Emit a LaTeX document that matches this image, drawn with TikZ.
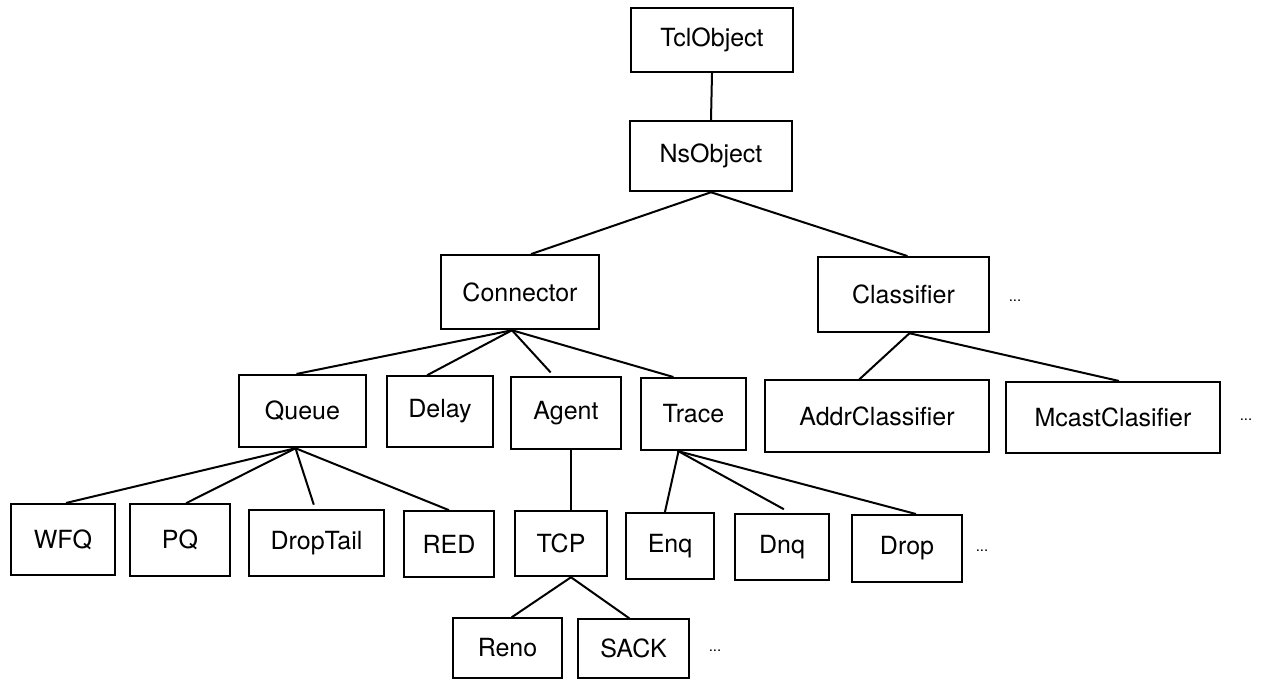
\documentclass[tikz,border=0pt]{standalone}
\usepackage{fontspec}
\setmainfont{TeX Gyre Heros}
\begin{document}
\begin{tikzpicture}[x=1pt,y=-1pt,line cap=rect,
  classbox/.style={draw, line width=2.5pt, inner sep=0pt, font=\fontsize{25pt}{25pt}\selectfont},
  link/.style={line width=2.0pt},
  ellip/.style={inner sep=0pt, font=\fontsize{15pt}{15pt}\selectfont}]
\useasboundingbox (0,0) rectangle (1263,680);
% class boxes
\node[classbox, minimum width=162pt, minimum height=64pt] (tclobj) at (712.0,40.0) {TclObject};
\node[classbox, minimum width=162pt, minimum height=70pt] (nsobj) at (711.0,156.0) {NsObject};
\node[classbox, minimum width=158pt, minimum height=74pt] (connector) at (520.0,292.0) {Connector};
\node[classbox, minimum width=171pt, minimum height=75pt] (classifier) at (903.5,294.5) {Classifier};
\node[classbox, minimum width=127pt, minimum height=72pt] (queue) at (302.5,411.0) {Queue};
\node[classbox, minimum width=106pt, minimum height=71pt] (delay) at (440.0,411.5) {Delay};
\node[classbox, minimum width=110pt, minimum height=72pt] (agent) at (566.0,413.0) {Agent};
\node[classbox, minimum width=105pt, minimum height=72pt] (trace) at (693.5,414.0) {Trace};
\node[classbox, minimum width=224pt, minimum height=72pt] (addrcl) at (877.0,416.0) {AddrClassifier};
\node[classbox, minimum width=214pt, minimum height=71pt] (mcastcl) at (1113.0,417.5) {McastClasifier};
\node[classbox, minimum width=104pt, minimum height=71pt] (wfq) at (63.0,539.5) {WFQ};
\node[classbox, minimum width=100pt, minimum height=72pt] (pq) at (180.0,540.0) {PQ};
\node[classbox, minimum width=135pt, minimum height=66pt] (droptail) at (316.5,543.0) {DropTail};
\node[classbox, minimum width=90pt, minimum height=66pt] (red) at (449.0,544.0) {RED};
\node[classbox, minimum width=92pt, minimum height=65pt] (tcp) at (561.0,543.5) {TCP};
\node[classbox, minimum width=88pt, minimum height=66pt] (enq) at (670.0,546.0) {Enq};
\node[classbox, minimum width=94pt, minimum height=66pt] (dnq) at (782.0,547.0) {Dnq};
\node[classbox, minimum width=110pt, minimum height=67pt] (drop) at (907.0,548.5) {Drop};
\node[classbox, minimum width=109pt, minimum height=60pt] (reno) at (507.5,648.0) {Reno};
\node[classbox, minimum width=111pt, minimum height=59pt] (sack) at (633.5,648.5) {SACK};
% more subclasses
\node[ellip] (clsmore) at (1015.0,301.0) {...};
\node[ellip] (mcastmore) at (1246.0,420.0) {...};
\node[ellip] (dropmore) at (982.0,551.0) {...};
\node[ellip] (sackmore) at (715.0,651.0) {...};
% inheritance lines
\draw[link] (tclobj.south) -- (nsobj.north);
\draw[link] (nsobj.south) -- ([xshift=12pt]connector.north);
\draw[link] (nsobj.south) -- ([xshift=3pt]classifier.north);
\draw[link] ([xshift=-8pt]connector.south) -- ([xshift=-5pt]queue.north);
\draw[link] ([xshift=-8pt]connector.south) -- ([xshift=-12pt]delay.north);
\draw[link] ([xshift=-8pt]connector.south) -- ([xshift=-16pt,yshift=4pt]agent.north);
\draw[link] ([xshift=-8pt]connector.south) -- ([xshift=-21pt]trace.north);
\draw[link] ([xshift=6pt]classifier.south) -- ([xshift=-17pt]addrcl.north);
\draw[link] ([xshift=6pt]classifier.south) -- ([xshift=5pt]mcastcl.north);
\draw[link] ([xshift=-7pt]queue.south) -- ([xshift=4pt]wfq.north);
\draw[link] ([xshift=-7pt]queue.south) -- ([xshift=7pt]pq.north);
\draw[link] ([xshift=-7pt]queue.south) -- ([xshift=-3pt,yshift=5pt]droptail.north);
\draw[link] ([xshift=-7pt]queue.south) -- ([xshift=-1pt]red.north);
\draw[link] ([xshift=5pt]agent.south) -- ([xshift=10pt]tcp.north);
\draw[link] ([xshift=-15pt]trace.south) -- ([xshift=-5pt]enq.north);
\draw[link] ([xshift=-15pt]trace.south) -- ([xshift=1pt,yshift=4pt]dnq.north);
\draw[link] ([xshift=-15pt]trace.south) -- ([xshift=8pt]drop.north);
\draw[link] ([xshift=10pt]tcp.south) -- ([xshift=5pt]reno.north);
\draw[link] ([xshift=10pt]tcp.south) -- ([xshift=-5pt]sack.north);
\end{tikzpicture}
\end{document}
